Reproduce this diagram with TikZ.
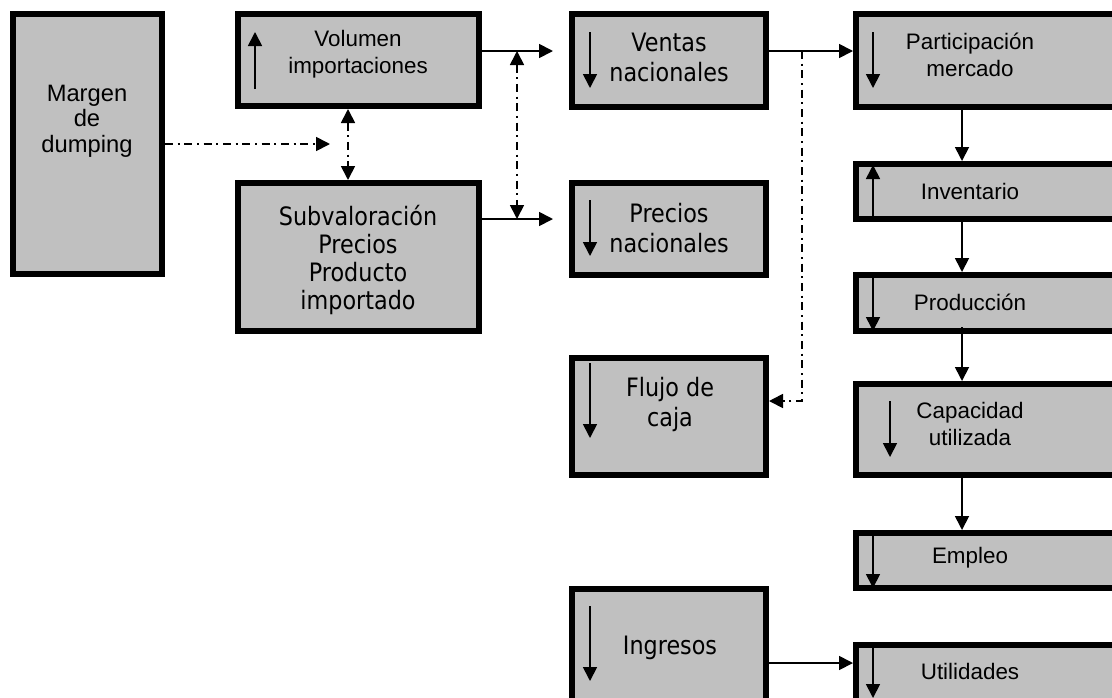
\documentclass[tikz,border=0pt]{standalone}
\usepackage{fontspec}
\setmainfont{Liberation Sans}
\newfontfamily\tahomalike[FakeStretch=0.88]{DejaVu Sans}
\usetikzlibrary{arrows.meta,fit}
\definecolor{boxgray}{HTML}{C0C0C0}

\begin{document}
\begin{tikzpicture}[x=0.75pt,y=-0.75pt,
  tri/.tip={Triangle[length=10.5pt,width=10.5pt]},
  box/.style={draw=black,line width=4.5pt,fill=boxgray,inner sep=0pt},
  conn/.style={line width=1.3pt,-tri},
  dd/.style={line width=1.3pt,dash pattern=on 6pt off 3.5pt on 1.5pt off 3.5pt},
  ddtip/.style={-tri},
  ddboth/.style={tri-tri},
  trend/.style={line width=1.3pt,-tri},
  lblA/.style={align=center,inner sep=0pt,font=\fontsize{16.8pt}{20pt}\selectfont},
  lblM/.style={align=center,inner sep=0pt,font=\fontsize{17.8pt}{19pt}\selectfont},
  lblT/.style={align=center,inner sep=0pt,font=\tahomalike\fontsize{19pt}{22.5pt}\selectfont},
]
\useasboundingbox (0,0) rectangle (1112,697);
\clip (0,0) rectangle (1112,697);

% boxes
\node[box,fit={(13,14) (162,274)}] (marg) {};
\node[box,fit={(238,14) (479,106)}] (vol) {};
\node[box,fit={(238,183) (479,331)}] (sub) {};
\node[box,fit={(572,14) (766,107)}] (ven) {};
\node[box,fit={(572,183) (766,275)}] (pre) {};
\node[box,fit={(572,358) (766,475)}] (flu) {};
\node[box,fit={(572,589) (766,720)}] (ing) {};
\node[box,fit={(856,14) (1135,107)}] (par) {};
\node[box,fit={(856,164) (1135,219)}] (inv) {};
\node[box,fit={(856,275) (1135,331)}] (pro) {};
\node[box,fit={(856,384) (1135,475)}] (cap) {};
\node[box,fit={(856,533) (1135,588)}] (emp) {};
\node[box,fit={(856,645) (1135,720)}] (uti) {};

% labels
\node[lblM] (tmarg) at (87,121) {Margen\\de\\dumping};
\node[lblA] (tvol) at (358,54) {Volumen\\importaciones};
\node[lblT,font=\tahomalike\fontsize{19pt}{21pt}\selectfont] (tsub) at (358,260) {Subvaloración\\Precios\\Producto\\importado};
\node[lblT] (tven) at (669,57) {Ventas\\nacionales};
\node[lblT] (tpre) at (669,228) {Precios\\nacionales};
\node[lblT] (tflu) at (670,404) {Flujo de\\caja};
\node[lblT] (ting) at (670,648) {Ingresos};
\node[lblA] (tpar) at (970,55) {Participación\\mercado};
\node[lblA] (tinv) at (970,191) {Inventario};
\node[lblA] (tpro) at (970,302) {Producción};
\node[lblA] (tcap) at (970,424) {Capacidad\\utilizada};
\node[lblA] (temp) at (970,558) {Empleo};
\node[lblA] (tuti) at (970,671) {Utilidades};

% trend indicators inside the boxes
\draw[trend] (255,89) -- (255,32);
\draw[trend] (590,32) -- (590,88);
\draw[trend] (590,200) -- (590,256);
\draw[trend] (590,363) -- (590,438);
\draw[trend] (590,606) -- (590,681);
\draw[trend] (873,32) -- (873,88);
\draw[trend] (873,217) -- (873,165);
\draw[trend] (873,275) -- (873,331);
\draw[trend] (890,401) -- (890,457);
\draw[trend] (873,535) -- (873,588);
\draw[trend] (873,645) -- (873,698);

% reference levels for the connectors
\coordinate (ya) at (0,51);
\coordinate (yb) at (0,219);
\coordinate (yf) at (0,401);
\coordinate (yi) at (0,663);
\coordinate (xv) at (348,0);
\coordinate (xw) at (517,0);
\coordinate (xf) at (802,0);
\coordinate (xc) at (962,0);
\coordinate (mtip) at (330,144);

% connectors
\draw[dd,ddtip] (marg.east |- mtip) -- (mtip);
\draw[dd,ddboth] (vol.south -| xv) -- (sub.north -| xv);
\draw[conn,shorten >=12pt] (vol.east |- ya) -- (ven.west |- ya);
\draw[conn,shorten >=12pt] (sub.east |- yb) -- (pre.west |- yb);
\draw[dd,ddboth] (xw |- ya) -- (xw |- yb);
\draw[conn] (ven.east |- ya) -- (par.west |- ya);
\draw[dd,ddtip] (xf |- ya) |- (flu.east |- yf);
\draw[conn] (par.south -| xc) -- (inv.north -| xc);
\draw[conn] (inv.south -| xc) -- (pro.north -| xc);
\draw[conn] ([yshift=5pt]pro.south -| xc) -- (cap.north -| xc);
\draw[conn] (cap.south -| xc) -- (emp.north -| xc);
\draw[conn] (ing.east |- yi) -- (uti.west |- yi);
\end{tikzpicture}
\end{document}
